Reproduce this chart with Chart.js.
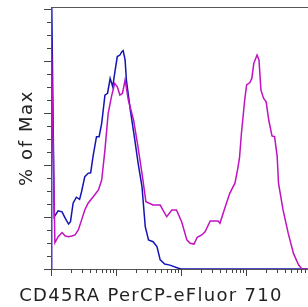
<!DOCTYPE html>
<html>
<head>
<meta charset="utf-8">
<script src="https://cdn.jsdelivr.net/npm/chart.js@4.4.0/dist/chart.umd.min.js"></script>
<style>
  body { margin: 0; background: #fff; }
  #wrap { width: 308px; height: 307px; position: relative; }
</style>
</head>
<body>
<div id="wrap"><canvas id="chart"></canvas></div>
<script>
// x in decades of the display scale, y in % of Max
const bluX = [0, 0.01, 0.05, 0.11, 0.17, 0.22, 0.27, 0.30, 0.34, 0.39, 0.44, 0.47, 0.52, 0.57, 0.61, 0.65, 0.70, 0.74, 0.78, 0.83, 0.87, 0.91, 0.95, 0.98, 1.02, 1.06, 1.09, 1.11, 1.14, 1.16, 1.22, 1.29, 1.34, 1.40, 1.45, 1.50, 1.57, 1.63, 1.68, 1.75, 1.83, 1.96, 2.00, 3.95];
const bluY = [0, 105, 20.1, 22.4, 22.0, 19.5, 17.3, 18.2, 25.3, 27.6, 26.8, 29.7, 35.5, 36.8, 37.0, 43.8, 50.9, 50.9, 56.0, 66.9, 67.6, 73.3, 70.1, 75.3, 81.7, 82.3, 83.6, 84.0, 80.4, 72.7, 61.2, 49.6, 40.7, 31.7, 16.3, 11.2, 10.5, 8.6, 3.5, 1.9, 1.5, 0.3, 0, 0];

const magX = [0, 0.005, 0.06, 0.11, 0.17, 0.22, 0.27, 0.32, 0.37, 0.42, 0.47, 0.52, 0.57, 0.65, 0.73, 0.78, 0.83, 0.88, 0.93, 0.98, 1.02, 1.06, 1.10, 1.14, 1.19, 1.27, 1.33, 1.40, 1.46, 1.57, 1.68, 1.78, 1.86, 1.93, 2.01, 2.09, 2.14, 2.20, 2.25, 2.32, 2.37, 2.45, 2.57, 2.60, 2.64, 2.69, 2.75, 2.83, 2.87, 2.90, 2.93, 2.98, 3.01, 3.06, 3.09, 3.12, 3.17, 3.20, 3.23, 3.27, 3.31, 3.35, 3.40, 3.44, 3.48, 3.50, 3.57, 3.65, 3.73, 3.81, 3.86, 3.95];
const magY = [0, 88.1, 10.1, 12.4, 14.0, 12.7, 12.4, 12.7, 13.1, 15.0, 18.8, 22.7, 25.3, 27.8, 30.4, 34.2, 45.8, 59.9, 66.3, 71.4, 70.1, 66.9, 67.6, 72.7, 65.0, 57.3, 48.3, 36.8, 25.9, 24.6, 24.6, 20.1, 22.7, 22.7, 18.2, 11.2, 9.9, 9.6, 12.2, 13.1, 14.3, 18.5, 18.5, 17.6, 20.8, 24.6, 29.1, 33.0, 38.1, 42.7, 52.2, 65.0, 70.8, 71.7, 73.3, 79.1, 82.3, 80.4, 68.8, 65.7, 64.3, 57.3, 51.2, 50.9, 43.2, 33.0, 22.7, 13.7, 6.0, 1.5, 0, 0];

const xMajor = [0, 1, 2, 3];
const xMinorSteps = [2, 3, 4, 5, 6, 7, 8, 9];
const yMajor = [0, 20, 40, 60, 80, 100];
const yMinor = [5, 10, 15, 25, 30, 35, 45, 50, 55, 65, 70, 75, 85, 90, 95];

const xTitle = "CD45RA PerCP-eFluor 710";
const yTitle = "% of Max";

function pts(xs, ys) {
  return xs.map((x, i) => ({ x: x, y: ys[i] }));
}

const frame = {
  id: "frame",
  afterDraw(chart) {
    const { ctx, chartArea: a, scales } = chart;
    const sx = scales.x, sy = scales.y;
    ctx.save();
    ctx.strokeStyle = "#555";
    ctx.lineWidth = 1;
    ctx.beginPath();
    ctx.moveTo(a.left, a.top + 0.5);
    ctx.lineTo(a.right, a.top + 0.5);
    ctx.moveTo(a.left + 0.5, a.top);
    ctx.lineTo(a.left + 0.5, a.bottom);
    ctx.moveTo(a.left, a.bottom + 0.5);
    ctx.lineTo(a.right, a.bottom + 0.5);
    ctx.stroke();

    ctx.strokeStyle = "#444";
    ctx.beginPath();
    // x ticks, log spacing inside each decade
    const xt = [];
    [-1].concat(xMajor).forEach(d => {
      if (d >= 0) xt.push([d, 7]);
      xMinorSteps.forEach(k => xt.push([d + Math.log10(k), 4]));
    });
    xt.forEach(([v, len]) => {
      if (v < sx.min || v > sx.max) return;
      const px = Math.round(sx.getPixelForValue(v)) + 0.5;
      ctx.moveTo(px, a.bottom);
      ctx.lineTo(px, a.bottom + len);
    });
    yMajor.forEach(v => {
      const py = Math.round(sy.getPixelForValue(v)) + 0.5;
      ctx.moveTo(a.left - 7, py);
      ctx.lineTo(a.left, py);
    });
    yMinor.forEach(v => {
      const py = Math.round(sy.getPixelForValue(v)) + 0.5;
      ctx.moveTo(a.left - 4, py);
      ctx.lineTo(a.left, py);
    });
    ctx.stroke();

    ctx.fillStyle = "#222";
    ctx.font = "18px 'DejaVu Sans'";
    ctx.letterSpacing = "1.3px";
    ctx.textAlign = "center";
    ctx.textBaseline = "middle";
    ctx.fillText(xTitle, 151, 296);
    ctx.translate(27, (a.top + a.bottom) / 2);
    ctx.rotate(-Math.PI / 2);
    ctx.letterSpacing = "1.6px";
    ctx.fillText(yTitle, 0, 0);
    ctx.restore();
  },
};

new Chart(document.getElementById("chart"), {
  type: "scatter",
  data: {
    datasets: [
      {
        label: "stained",
        data: pts(magX, magY),
        showLine: true,
        borderColor: "#c012c0",
        borderWidth: 1.5,
        pointRadius: 0,
      },
      {
        label: "control",
        data: pts(bluX, bluY),
        showLine: true,
        borderColor: "#1414b4",
        borderWidth: 1.5,
        pointRadius: 0,
      },
    ],
  },
  options: {
    responsive: true,
    maintainAspectRatio: false,
    animation: false,
    layout: { padding: { left: 51, top: 7, right: 0, bottom: 38 } },
    plugins: { legend: { display: false }, tooltip: { enabled: false } },
    scales: {
      x: { type: "linear", min: 0, max: 3.954, display: false },
      y: { type: "linear", min: 0, max: 100.77, display: false },
    },
  },
  plugins: [frame],
});
</script>
</body>
</html>
